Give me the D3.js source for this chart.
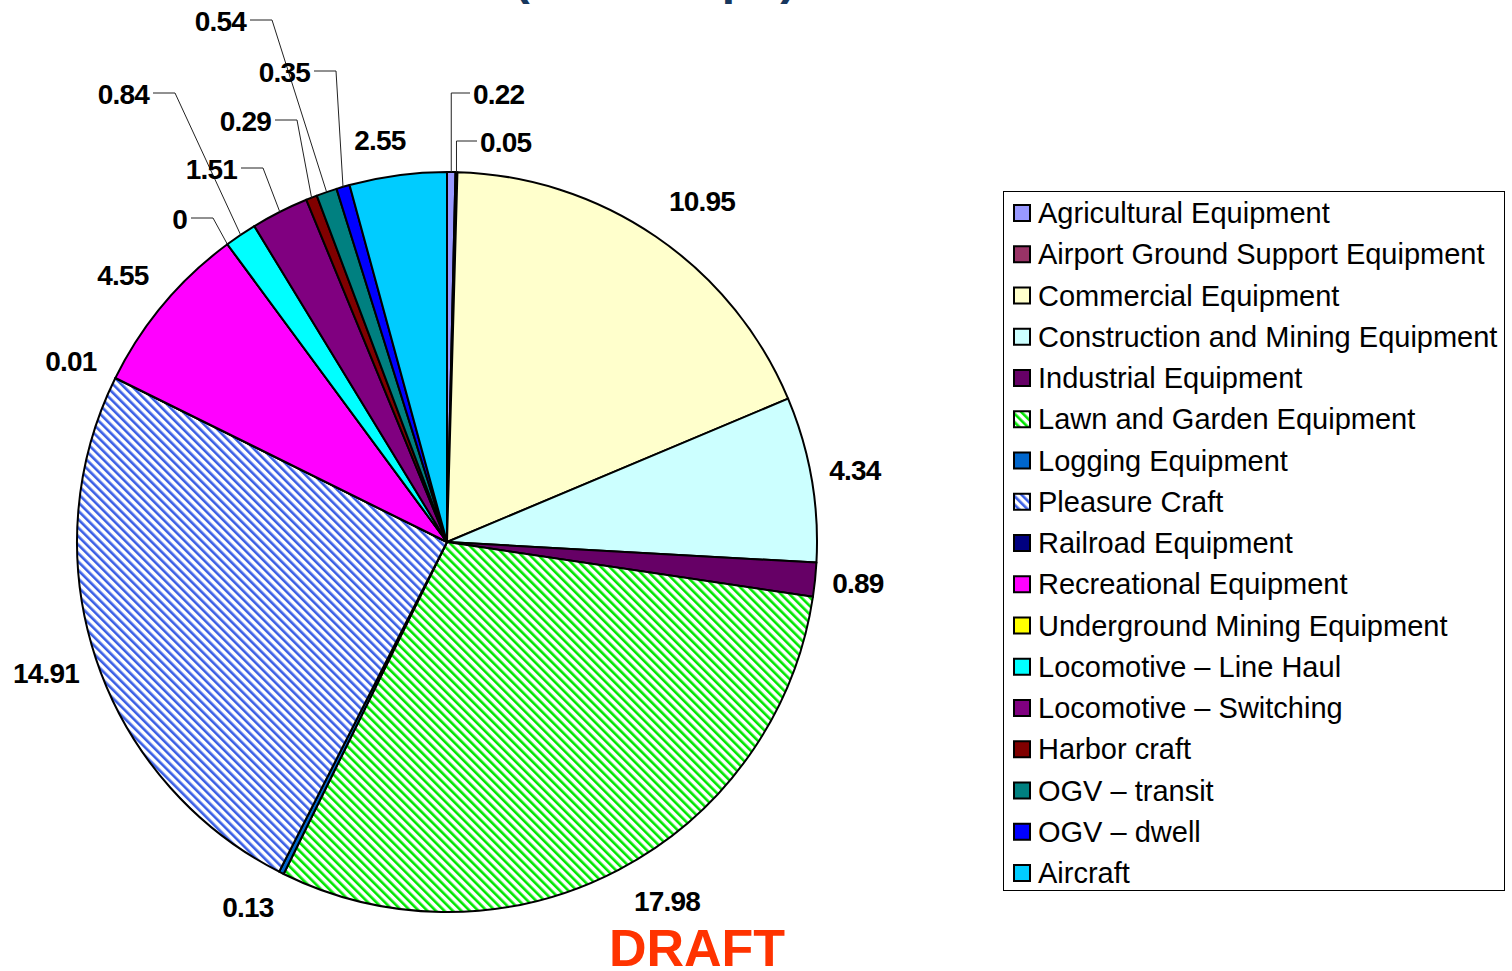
<!DOCTYPE html>
<html>
<head>
<meta charset="utf-8">
<script src="https://cdn.jsdelivr.net/npm/d3@7"></script>
<style>
  html, body { margin: 0; padding: 0; background: #fff; overflow: hidden; }
  svg { display: block; font-family: "Liberation Sans", Arial, sans-serif; }
</style>
</head>
<body>
<svg id="chart" width="1512" height="971"></svg>
<script>
// categories, values and colours (legend order = slice order, clockwise from 12 o'clock)
const categories = [
  "Agricultural Equipment", "Airport Ground Support Equipment", "Commercial Equipment",
  "Construction and Mining Equipment", "Industrial Equipment", "Lawn and Garden Equipment",
  "Logging Equipment", "Pleasure Craft", "Railroad Equipment", "Recreational Equipment",
  "Underground Mining Equipment", "Locomotive \u2013 Line Haul", "Locomotive \u2013 Switching",
  "Harbor craft", "OGV \u2013 transit", "OGV \u2013 dwell", "Aircraft"
];
const values = [0.22, 0.05, 10.95, 4.34, 0.89, 17.98, 0.13, 14.91, 0.01, 4.55, 0, 0.84, 1.51, 0.29, 0.54, 0.35, 2.55];
const colors = [
  "#9999FF", "#993366", "#FFFFCC", "#CCFFFF", "#660066", "url(#hatchGreen)",
  "#0066CC", "url(#hatchBlue)", "#000080", "#FF00FF", "#FFFF00", "#00FFFF",
  "#800080", "#800000", "#008080", "#0000FF", "#00CCFF"
];

// where each value label sits (text anchor point) and whether it gets a leader line
const labelLayout = [
  { x: 473, y: 104, anchor: "start", leader: "down" },
  { x: 480, y: 152, anchor: "start", leader: "down" },
  { x: 702, y: 211, anchor: "middle" },
  { x: 855, y: 480, anchor: "middle" },
  { x: 858, y: 593, anchor: "middle" },
  { x: 667, y: 911, anchor: "middle" },
  { x: 248, y: 917, anchor: "middle" },
  { x: 46,  y: 683, anchor: "middle" },
  { x: 71,  y: 371, anchor: "middle" },
  { x: 123, y: 285, anchor: "middle" },
  { x: 187, y: 229, anchor: "end", leader: "elbow" },
  { x: 149, y: 104, anchor: "end", leader: "elbow" },
  { x: 237, y: 179, anchor: "end", leader: "elbow" },
  { x: 271, y: 131, anchor: "end", leader: "elbow" },
  { x: 246, y: 31,  anchor: "end", leader: "elbow" },
  { x: 310, y: 82,  anchor: "end", leader: "elbow" },
  { x: 380, y: 150, anchor: "middle" }
];

const width = 1512, height = 971;
const cx = 447, cy = 542, radius = 370;

const svg = d3.select("#chart");

// hatch patterns for lawn & garden and pleasure craft
const defs = svg.append("defs");
function hatch(id, color) {
  const p = defs.append("pattern")
    .attr("id", id)
    .attr("patternUnits", "userSpaceOnUse")
    .attr("width", 6).attr("height", 6)
    .attr("patternTransform", "rotate(-45)");
  p.append("rect").attr("width", 6).attr("height", 6).attr("fill", "#fff");
  p.append("rect").attr("width", 2.6).attr("height", 6).attr("fill", color);
}
hatch("hatchGreen", "#00E600");
hatch("hatchBlue", "#3A5FE5");

// title (mostly cut off by the top of the page)
svg.append("text")
  .attr("x", 655).attr("y", -6)
  .attr("text-anchor", "middle")
  .attr("font-size", 48).attr("font-weight", "bold")
  .attr("fill", "#17375E")
  .text("(Annual tpd)");

const pie = d3.pie().sort(null).value(d => d)(values);
const arc = d3.arc().innerRadius(0).outerRadius(radius);

const g = svg.append("g").attr("transform", `translate(${cx},${cy})`);

g.selectAll("path.slice")
  .data(pie)
  .join("path")
  .attr("class", "slice")
  .attr("d", arc)
  .attr("fill", (d, i) => colors[i])
  .attr("stroke", "#000")
  .attr("stroke-width", 2)
  .attr("stroke-linejoin", "round");

// point on the rim at the middle of a slice
function rimPoint(d) {
  const a = (d.startAngle + d.endAngle) / 2;
  return [cx + radius * Math.sin(a), cy - radius * Math.cos(a)];
}

// leader lines
pie.forEach((d, i) => {
  const L = labelLayout[i];
  if (!L.leader) return;
  const [px, py] = rimPoint(d);
  const ly = L.y - 11;
  let pts;
  if (L.leader === "down") {
    pts = [[L.x - 3, ly], [px, ly], [px, py]];
  } else {
    pts = [[L.x + 4, ly], [L.x + 26, ly], [px, py]];
  }
  svg.append("path")
    .attr("d", d3.line()(pts))
    .attr("fill", "none")
    .attr("stroke", "#222")
    .attr("stroke-width", 1);
});

// value labels
svg.selectAll("text.val")
  .data(values)
  .join("text")
  .attr("class", "val")
  .attr("x", (d, i) => labelLayout[i].x)
  .attr("y", (d, i) => labelLayout[i].y)
  .attr("text-anchor", (d, i) => labelLayout[i].anchor)
  .attr("font-size", 28)
  .attr("font-weight", "bold")
  .attr("letter-spacing", -0.8)
  .attr("fill", "#000")
  .text(d => String(d));

// legend
const legend = svg.append("g");
legend.append("rect")
  .attr("x", 1003.5).attr("y", 191.5)
  .attr("width", 501).attr("height", 699)
  .attr("fill", "#fff")
  .attr("stroke", "#000")
  .attr("stroke-width", 1);

const rowY = d3.scalePoint().domain(categories).range([213, 873]);

const rows = legend.selectAll("g.row")
  .data(categories)
  .join("g")
  .attr("class", "row")
  .attr("transform", d => `translate(0,${rowY(d)})`);

rows.append("rect")
  .attr("x", 1014).attr("y", -8)
  .attr("width", 16).attr("height", 16)
  .attr("fill", (d, i) => colors[i])
  .attr("stroke", "#000")
  .attr("stroke-width", 2);

rows.append("text")
  .attr("x", 1038).attr("y", 10)
  .attr("font-size", 29)
  .attr("fill", "#000")
  .text(d => d);

// draft stamp
svg.append("text")
  .attr("x", 697).attr("y", 966)
  .attr("text-anchor", "middle")
  .attr("font-size", 52).attr("font-weight", "bold")
  .attr("fill", "#FF3300")
  .text("DRAFT");
</script>
</body>
</html>
